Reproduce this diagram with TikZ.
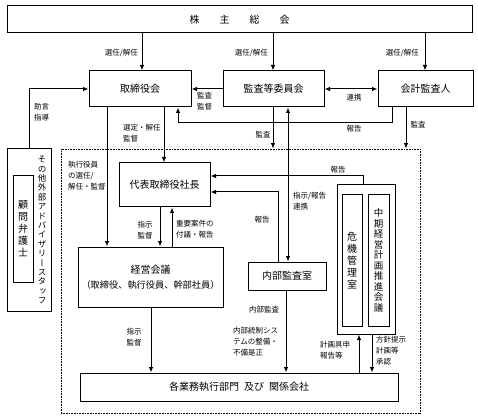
\documentclass[tikz,border=0pt]{standalone}
\usepackage{fontspec}
\setmainfont{Noto Sans CJK JP}
\newfontfamily\jpv[RawFeature=+vert]{Noto Sans CJK JP}
\usetikzlibrary{arrows.meta}
\begin{document}
\begin{tikzpicture}[x=1pt,y=-1pt,
  box/.style={draw, line width=1pt, inner sep=0pt, align=center, font=\fontsize{10}{12}\selectfont},
  lbl/.style={inner sep=0pt, font=\fontsize{7.5}{11}\selectfont, align=left},
  clbl/.style={inner sep=0pt, font=\fontsize{7.5}{11}\selectfont, align=center},
  arr/.style={line width=1pt, -{Latex[length=5.5pt,width=4.5pt]}},
  darr/.style={line width=1pt, {Latex[length=5.5pt,width=4.5pt]}-{Latex[length=5.5pt,width=4.5pt]}}]
\useasboundingbox (0,0) rectangle (478,419);
% x / y helper coordinates
\foreach \n/\v in {107/107,142/142,151/151,160/160,164/164,172/172,178/178,273/273,278/278,286/286,288/288,359/359,363/363,372/372,392/392,406/406,425/425}{\coordinate (c\n) at (\v,0);}
\coordinate (r176) at (0,176);
\coordinate (r192) at (0,192);
% nodes
\node[box, minimum width=465pt, minimum height=27pt] (gm) at (239.5,19.5) {株\hspace{2em}主\hspace{2em}総\hspace{2em}会};
\node[box, minimum width=102pt, minimum height=36pt] (tb) at (140,89) {取締役会};
\node[box, minimum width=101pt, minimum height=36pt] (ac) at (273.5,89) {監査等委員会};
\node[box, minimum width=95pt, minimum height=36pt] (aud) at (425.5,89) {会計監査人};
\node[draw, line width=0.7pt, dash pattern=on 0.7pt off 0.9pt, minimum width=359pt, minimum height=264pt, inner sep=0pt] (dot) at (240.5,281) {};
\node[box, minimum width=91pt, minimum height=44pt] (pres) at (164.5,185) {代表取締役社長};
\node[box, minimum width=145pt, minimum height=60pt] (mgmt) at (150.5,277) {経営会議\\[3pt]{\fontsize{9.2}{11}\selectfont （取締役、執行役員、幹部社員）}};
\node[box, minimum width=78pt, minimum height=28pt] (ia) at (287,276) {内部監査室};
\node[box, minimum width=318pt, minimum height=28pt] (bot) at (239,387) {各業務執行部門\hspace{0.5em}及び\hspace{0.5em}関係会社};
\node[box, minimum width=58pt, minimum height=149pt] (grp) at (366,259.5) {};
\node[box, minimum width=20pt, minimum height=131pt] (risk) at (352,260.5) {危\\機\\管\\理\\室};
\node[box, minimum width=21pt, minimum height=131pt, font=\fontsize{9.5}{10.5}\selectfont] (plan) at (378.5,260.5) {中\\期\\経\\営\\計\\画\\推\\進\\会\\議};
\node[box, minimum width=44pt, minimum height=162pt] (adv) at (29,230) {};
\node[box, minimum width=20pt, minimum height=106pt, font=\fontsize{10}{12}\selectfont] (law) at (23,229) {顧\\問\\弁\\護\\士};
\node[inner sep=0pt, align=center, font=\jpv\fontsize{8.5}{9.4}\selectfont] (advt) at (42,230) {そ\\の\\他\\外\\部\\ア\\ド\\バ\\イ\\ザ\\リ\\ー\\ス\\タ\\ッ\\フ};
% connectors
\draw[arr] (gm.south -| c142) -- (tb.north -| c142);
\node[lbl, anchor=east] (l1) at (138,53) {選任/解任};
\draw[arr] (gm.south -| c273) -- (ac.north -| c273);
\node[lbl, anchor=east] (l2) at (268,53) {選任/解任};
\draw[arr] (gm.south -| c425) -- (aud.north -| c425);
\node[lbl, anchor=east] (l3) at (419,53) {選任/解任};
\draw[arr] (ac.west) -- (tb.east);
\node[lbl, anchor=north west] (l4) at (197,92) {監査\\監督};
\draw[darr] (ac.east) -- (aud.west);
\node[lbl] (l5) at (354,98) {連携};
\draw[arr] (adv.north) |- (tb.west);
\node[lbl, anchor=north west] (l6) at (34,103) {助言\\指導};
\draw[arr] (aud.south -| c392) -- ++(0,15) -| (tb.south -| c178);
\node[lbl] (l7) at (354,129) {報告};
\draw[arr] (aud.south -| c406) -- (dot.north -| c406);
\node[lbl] (l8) at (418,125) {監査};
\draw[arr] (ac.south -| c273) -- (dot.north -| c273);
\node[lbl] (l9) at (263,135) {監査};
\draw[darr] (ac.south -| c288) -- (ia.north -| c288);
\node[lbl, anchor=north west] (l10) at (293,192) {指示/報告\\連携};
\draw[arr] (tb.south -| c107) -- (mgmt.north -| c107);
\node[lbl, anchor=north west] (l11) at (68,161) {執行役員\\の選任/\\解任・監督};
\draw[arr] (tb.south -| c164) -- (pres.north -| c164);
\node[lbl, anchor=north west] (l12) at (123,124) {選定・解任\\監督};
\draw[arr] (grp.north -| c363) |- (pres.east |- r176);
\node[lbl] (l13) at (338,170) {報告};
\draw[arr] (ia.north -| c278) |- (pres.east |- r192);
\node[lbl] (l14) at (262,220) {報告};
\draw[arr] (pres.south -| c160) -- (mgmt.north -| c160);
\node[clbl] (l15) at (145,230) {指示\\監督};
\draw[arr] (mgmt.north -| c172) -- (pres.south -| c172);
\node[lbl, anchor=north west] (l16) at (176,220) {重要案件の\\付議・報告};
\draw[arr] (mgmt.south -| c151) -- (bot.north -| c151);
\node[clbl] (l17) at (134,337) {指示\\監督};
\draw[arr] (ia.south -| c286) -- (bot.north -| c286);
\node[lbl] (l18) at (264,310) {内部監査};
\node[lbl, anchor=north west] (l19) at (233,327) {内部統制シス\\テムの整備・\\不備是正};
\draw[arr] (bot.north -| c359) -- (grp.south -| c359);
\node[lbl, anchor=north west] (l20) at (320,341) {計画具申\\報告等};
\draw[arr] (grp.south -| c372) -- (bot.north -| c372);
\node[lbl, anchor=north west] (l21) at (376,336) {方針提示\\計画等\\承認};
\end{tikzpicture}
\end{document}
